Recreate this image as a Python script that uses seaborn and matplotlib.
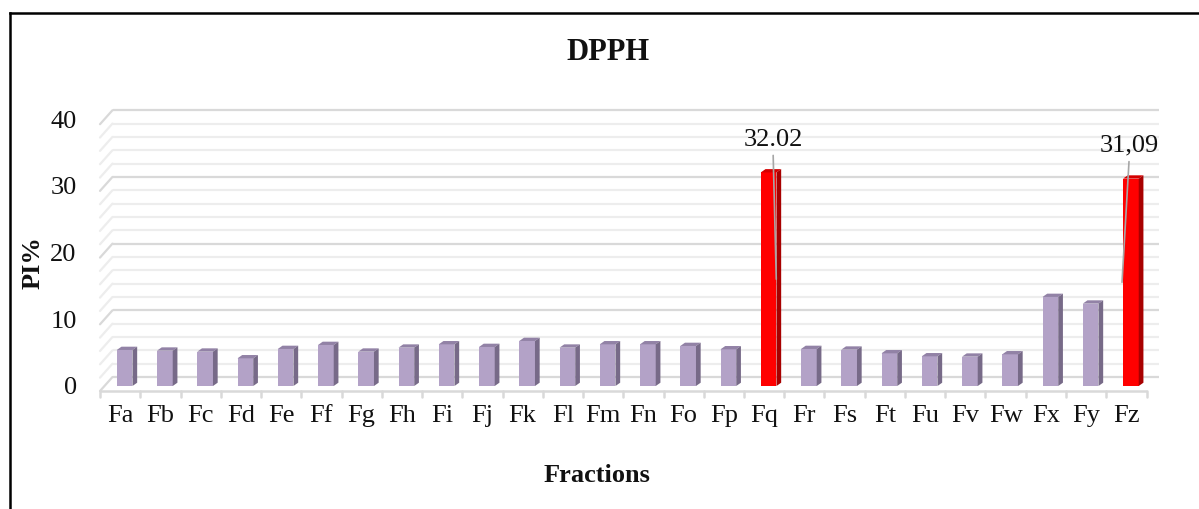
import matplotlib
matplotlib.use("Agg")
import matplotlib.pyplot as plt
import pandas as pd
import seaborn as sns
from matplotlib.lines import Line2D
from matplotlib.patches import Polygon
from matplotlib.transforms import ScaledTranslation

# ---- data -------------------------------------------------------------
fractions = ["Fa", "Fb", "Fc", "Fd", "Fe", "Ff", "Fg", "Fh", "Fi", "Fj", "Fk",
             "Fl", "Fm", "Fn", "Fo", "Fp", "Fq", "Fr", "Fs", "Ft", "Fu", "Fv",
             "Fw", "Fx", "Fy", "Fz"]
pi_percent = [5.4, 5.3, 5.15, 4.15, 5.55, 6.15, 5.15, 5.75, 6.25, 5.85, 6.75,
              5.75, 6.25, 6.25, 6.0, 5.5, 32.02, 5.55, 5.45, 4.9, 4.45, 4.4,
              4.75, 13.35, 12.35, 31.09]
highlighted = ["Fq", "Fz"]
value_labels = {"Fq": "32.02", "Fz": "31,09"}
y_ticks = [0, 10, 20, 30, 40]

# ---- style ------------------------------------------------------------
sns.set_theme(style="white")
plt.rcParams["font.family"] = ["Liberation Serif", "DejaVu Serif"]

W, H = 1199, 509
fig = plt.figure(figsize=(W / 100, H / 100), dpi=100)
fig.patch.set_facecolor("white")
ax = fig.add_axes([104.5 / W, 1 - 386 / H, 1046.5 / W, 266.8 / H])
ax.set_facecolor("none")

LAVENDER = {"front": "#b3a2c7", "top": "#9282a6", "side": "#776a88"}
RED = {"front": "#ff0000", "top": "#d40000", "side": "#a80000"}
GRID_MAJOR = "#d9d9d9"
GRID_MINOR = "#ededed"

df = pd.DataFrame({"Fraction": fractions, "PI": pi_percent})
palette = {f: (RED if f in highlighted else LAVENDER)["front"] for f in fractions}
sns.barplot(data=df, x="Fraction", y="PI", hue="Fraction", palette=palette,
            legend=False, width=0.39, saturation=1, linewidth=0, ax=ax,
            zorder=3)

ax.set_xlim(-0.5, len(fractions) - 0.5)
ax.set_ylim(0, 40)
for s in ax.spines.values():
    s.set_visible(False)
ax.set_xlabel("")
ax.set_ylabel("")

# pixel -> data unit conversions for the pseudo-3D depth
p0 = ax.transData.transform((0, 0))
ux = ax.transData.transform((1, 0))[0] - p0[0]
uy = ax.transData.transform((0, 1))[1] - p0[1]

back_dx, back_dy = 8 / ux, 9 / uy        # back wall
front_dx, front_dy = -4.5 / ux, -5 / uy  # front edge of the floor
x_lo, x_hi = -0.5, len(fractions) - 0.5

# back wall gridlines and the left side wall
for v in range(0, 41, 2):
    col = GRID_MAJOR if v % 10 == 0 else GRID_MINOR
    ax.plot([x_lo + back_dx, x_hi + back_dx], [v + back_dy] * 2, color=col,
            lw=1.6, clip_on=False, zorder=1, solid_capstyle="butt")
    ax.plot([x_lo + front_dx, x_lo + back_dx], [v + front_dy, v + back_dy],
            color=col, lw=1.6, clip_on=False, zorder=1)

# floor front edge with category tick marks
ax.plot([x_lo + front_dx, x_hi + front_dx], [front_dy] * 2, color=GRID_MAJOR,
        lw=1.8, clip_on=False, zorder=2, solid_capstyle="butt")
for k in range(len(fractions) + 1):
    xb = x_lo + k + front_dx
    ax.plot([xb, xb], [front_dy, front_dy - 6 / uy], color=GRID_MAJOR,
            lw=1.8, clip_on=False, zorder=2)

# top and side faces of each column
depth_x, depth_y = 4.7 / ux, 3.3 / uy
for rect in list(ax.patches):
    x0, w, h = rect.get_x(), rect.get_width(), rect.get_height()
    idx = int(round(x0 + w / 2))
    shade = RED if fractions[idx] in highlighted else LAVENDER
    x1 = x0 + w
    top = [(x0, h), (x1, h), (x1 + depth_x, h + depth_y), (x0 + depth_x, h + depth_y)]
    side = [(x1, 0), (x1, h), (x1 + depth_x, h + depth_y), (x1 + depth_x, depth_y)]
    ax.add_patch(Polygon(top, closed=True, facecolor=shade["top"], lw=0,
                         zorder=4, clip_on=False))
    ax.add_patch(Polygon(side, closed=True, facecolor=shade["side"], lw=0,
                         zorder=4, clip_on=False))

# axis ticks
ax.set_yticks(y_ticks)
ax.tick_params(axis="y", length=0, pad=20, labelsize=19, labelcolor="#111111")
ax.tick_params(axis="x", length=0, pad=14, labelsize=19, labelcolor="#111111")
shift = ScaledTranslation(-4.5 / 100, 0, fig.dpi_scale_trans)
for lab in ax.get_xticklabels():
    lab.set_transform(lab.get_transform() + shift)
ax.grid(False)

# value labels with leader lines
label_layout = {"Fq": (0.11, 0.19), "Fz": (-0.04, -0.22)}
for name, text in value_labels.items():
    i = fractions.index(name)
    v = pi_percent[i]
    tx, tip = label_layout[name]
    ax.annotate(text, xy=(i + tip, v / 2), xytext=(i + tx, v + 4.9),
                ha="center", va="center", fontsize=19, color="#111111",
                annotation_clip=False, zorder=6,
                arrowprops=dict(arrowstyle="-", color="#a6a6a6", lw=1.2,
                                shrinkA=1, shrinkB=0, relpos=(0.5, 0)))

# titles
fig.text(608 / W, 1 - 52 / H, "DPPH", ha="center", va="center",
         fontsize=22, fontweight="bold", color="#111111")
fig.text(597 / W, 1 - 476 / H, "Fractions", ha="center", va="center",
         fontsize=19, fontweight="bold", color="#111111")
fig.text(33 / W, 1 - 263 / H, "PI%", ha="center", va="center", rotation=90,
         fontsize=19, fontweight="bold", color="#111111")

# chart frame (left and top edges)
fx = 9.5 / W
fy = 1 - 12.5 / H
fig.add_artist(Line2D([fx, fx], [0, fy], transform=fig.transFigure,
                      color="black", lw=1.8, solid_capstyle="projecting"))
fig.add_artist(Line2D([fx, 1], [fy, fy], transform=fig.transFigure,
                      color="black", lw=1.8, solid_capstyle="projecting"))

fig.savefig("out.png", dpi=100)
